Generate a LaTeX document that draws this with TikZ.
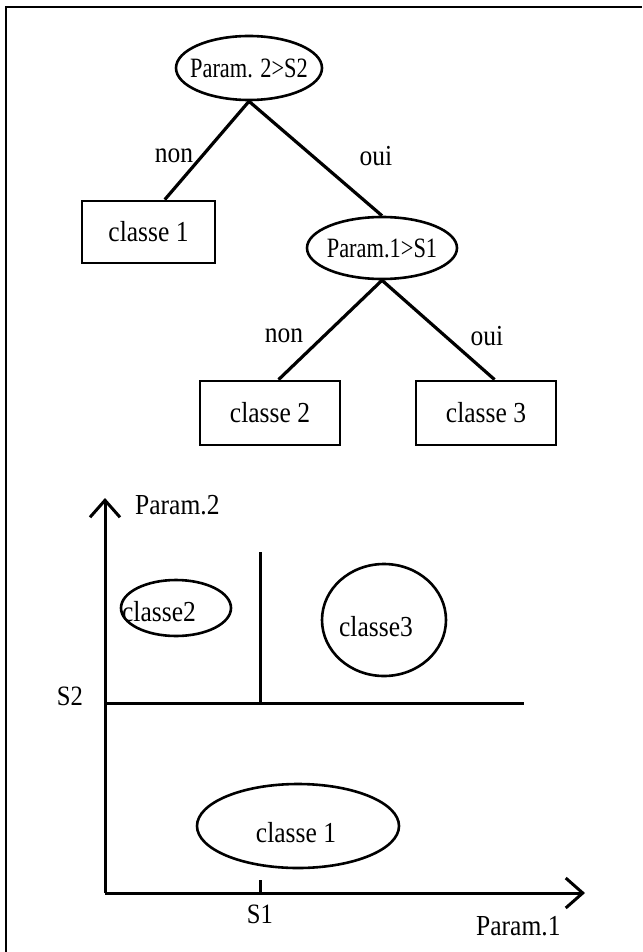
\documentclass[tikz,border=0pt]{standalone}
\usepackage{fontspec}
\setmainfont[FakeStretch=0.88]{Liberation Serif}
\newfontfamily\condserif[FakeStretch=0.8]{Liberation Serif}
\usetikzlibrary{shapes.geometric,calc,arrows.meta}
\begin{document}
\begin{tikzpicture}[x=1pt,y=-1pt,
  txt/.style={font=\fontsize{29}{33}\selectfont,inner sep=0pt},
  stxt/.style={font=\fontsize{28}{32}\selectfont,inner sep=0pt},
  ptxt/.style={font=\condserif\fontsize{28}{32}\selectfont,inner sep=0pt},
  ell/.style={draw,ellipse,line width=2.6pt,inner sep=0pt},
  box/.style={draw,rectangle,line width=2.8pt,inner sep=0pt},
  conn/.style={line width=3.2pt},
  axis/.style={line width=3pt},
  barb/.style={-{Straight Barb[length=17pt,width=30pt,line width=3pt]}}]
\useasboundingbox (0,0) rectangle (642,952);
\draw[line width=2.4pt] (6,952) -- (6,7) -- (642,7);
% tree
\node[ell,minimum width=146,minimum height=64,label={[ptxt]center:Param. 2>S2}] (A) at (249,68) {};
\node[box,minimum width=133,minimum height=62,txt] (C1) at (148.5,232) {classe 1};
\node[ell,minimum width=150,minimum height=62,label={[ptxt]center:Param.1>S1}] (B) at (382,248) {};
\node[box,minimum width=140,minimum height=64,txt] (C2) at (270,413) {classe 2};
\node[box,minimum width=140,minimum height=64,txt] (C3) at (486,413) {classe 3};
\coordinate (c1t) at ($(C1.north west)!0.62!(C1.north east)$);
\coordinate (c2t) at ($(C2.north west)!0.56!(C2.north east)$);
\coordinate (c3t) at ($(C3.north west)!0.56!(C3.north east)$);
\draw[conn] (c1t) -- (A.south) -- (B.north);
\draw[conn] (c2t) -- (B.south) -- (c3t);
\node[txt] (n1) at (174,156) {non};
\node[txt] (o1) at (376,156) {oui};
\node[txt] (n2) at (284,336) {non};
\node[txt] (o2) at (487,336) {oui};
% axes
\coordinate (O) at (105,893);
\coordinate (Ytop) at (105,498);
\coordinate (Xend) at (585,893);
\draw[axis,barb] (O) -- (Ytop);
\draw[axis,barb] (O) -- (Xend);
\node[txt,anchor=west] (p2) at (135,505) {Param.2};
\node[txt,anchor=west] (p1) at (476,926) {Param.1};
\coordinate (S1b) at (260,893);
\coordinate (S1t) at (260,880);
\draw[axis] (S1b) -- (S1t);
\node[stxt] (s1) at (260,914) {S1};
\coordinate (S2l) at (105,703);
\coordinate (S2r) at (524,703);
\coordinate (V1b) at (260,703);
\coordinate (V1t) at (260,552);
\draw[axis] (S2l) -- (S2r);
\draw[axis] (V1b) -- (V1t);
\node[stxt] (s2) at (70,696) {S2};
% class regions
\node[ell,minimum width=110,minimum height=56] (E2) at (176,608) {};
\node[txt] (e2t) at (159,612) {classe2};
\node[ell,minimum width=124,minimum height=112] (E3) at (384,620) {};
\node[txt] (e3t) at (376,627) {classe3};
\node[ell,minimum width=202,minimum height=84] (E1) at (298,826) {};
\node[txt] (e1t) at (296,833) {classe 1};
\end{tikzpicture}
\end{document}
